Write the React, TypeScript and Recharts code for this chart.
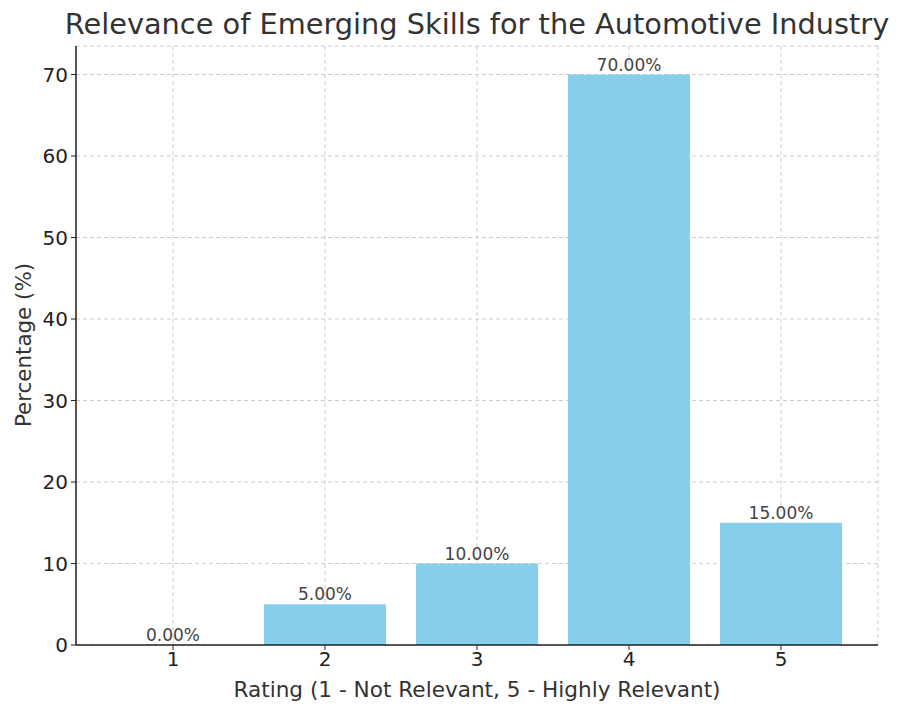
import { ComposedChart, Bar, Line, XAxis, YAxis, CartesianGrid, LabelList } from 'recharts';

const ratings = ['1', '2', '3', '4', '5'];
const percentages = [0, 5, 10, 70, 15];
const yTicks = [0, 10, 20, 30, 40, 50, 60, 70];

const data = ratings.map((rating, i) => ({ rating, value: percentages[i] }));

const FONT = '"DejaVu Sans", sans-serif';

export default function App() {
  return (
    <div style={{ position: 'absolute', left: 0, top: 0, width: 907, height: 715, background: '#fff', fontFamily: FONT }}>
      <div
        style={{
          position: 'absolute',
          left: 0,
          width: 954,
          top: 7,
          textAlign: 'center',
          fontSize: 28.8,
          color: '#333',
          lineHeight: '34px',
          whiteSpace: 'nowrap',
        }}
      >
        Relevance of Emerging Skills for the Automotive Industry
      </div>
      <ComposedChart
        width={907}
        height={715}
        data={data}
        margin={{ top: 46, right: 29, bottom: 0, left: 0 }}
        style={{ position: 'absolute', left: 0, top: 0 }}
      >
        <XAxis
          dataKey="rating"
          height={70}
          padding={{ left: 21, right: 21 }}
          tick={{ fill: '#222', fontSize: 20, fontFamily: FONT }}
          tickSize={5}
          tickMargin={2}
          axisLine={{ stroke: '#222', strokeWidth: 1.5 }}
          tickLine={{ stroke: '#222' }}
          label={{
            content: () => (
              <text x={477} y={697} textAnchor="middle" fontSize={21.6} fill="#333" fontFamily={FONT}>
                Rating (1 - Not Relevant, 5 - Highly Relevant)
              </text>
            ),
          }}
        />
        <YAxis
          width={76}
          domain={[0, 73.5]}
          ticks={yTicks}
          tick={{ fill: '#222', fontSize: 20, fontFamily: FONT }}
          tickSize={5}
          tickMargin={3}
          axisLine={{ stroke: '#222', strokeWidth: 1.5 }}
          tickLine={{ stroke: '#222' }}
          label={{
            content: () => (
              <text
                x={23}
                y={345}
                transform="rotate(-90 23 345)"
                textAnchor="middle"
                dominantBaseline="central"
                fontSize={21.4}
                fill="#333"
                fontFamily={FONT}
              >
                Percentage (%)
              </text>
            ),
          }}
        />
        <Bar dataKey="value" fill="#87CEEB" barSize={122} isAnimationActive={false} />
        <CartesianGrid stroke="#ccc" strokeDasharray="4 3" />
        <Line dataKey="value" stroke="none" dot={false} activeDot={false} isAnimationActive={false}>
          <LabelList
            dataKey="value"
            position="top"
            offset={4}
            formatter={(v: number) => `${v.toFixed(2)}%`}
            style={{ fill: '#444', fontSize: 17, fontFamily: FONT }}
          />
        </Line>
      </ComposedChart>
    </div>
  );
}
